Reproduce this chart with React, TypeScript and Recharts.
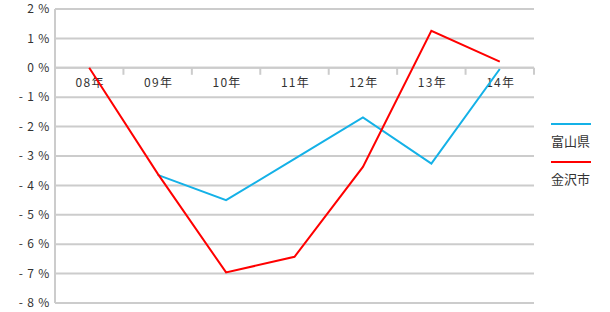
import React from 'react';
import { LineChart, Line, XAxis, YAxis, CartesianGrid, ReferenceLine, Legend } from 'recharts';

// 年次の前年比（%）
const years = ['08年', '09年', '10年', '11年', '12年', '13年', '14年'];
const toyama = [null, -3.64, -4.5, -3.1, -1.69, -3.26, -0.04];
const kanazawa = [0, -3.6, -6.96, -6.43, -3.37, 1.26, 0.21];
const yTicks = [-8, -7, -6, -5, -4, -3, -2, -1, 0, 1, 2];

const data = years.map((year, i) => ({
  year,
  toyama: toyama[i],
  kanazawa: kanazawa[i],
}));

const FONT = "'Noto Sans CJK JP', 'Noto Sans', sans-serif";
const GRID = '#cccccc';
const TEXT = '#333333';

const formatPct = (v: number) => (v < 0 ? `- ${Math.abs(v)} %` : `${v} %`);

// category labels and separator ticks hanging off the 0% line
const YearAxis = (props: any) => {
  const vb = props.viewBox || {};
  const band = vb.width / years.length;
  return (
    <g>
      {years.map((label, i) => (
        <g key={label}>
          <line
            x1={vb.x + band * (i + 1)}
            x2={vb.x + band * (i + 1)}
            y1={vb.y}
            y2={vb.y + 7}
            stroke={GRID}
            strokeWidth={2}
          />
          <text
            x={vb.x + band * (i + 0.5) + 1}
            y={vb.y + 19}
            textAnchor="middle"
            fontSize={12}
            letterSpacing={1.3}
            fontFamily={FONT}
            fill={TEXT}
          >
            {label}
          </text>
        </g>
      ))}
    </g>
  );
};

// legend floats at the right edge; wrapper keeps zero size so the plot isn't shrunk
const SideLegend = (props: any) => {
  const items = props.payload || [];
  return (
    <div style={{ position: 'absolute', left: 0, top: 0, width: 55, fontFamily: FONT, fontSize: 13, color: TEXT }}>
      {items.map((item: any) => (
        <div key={item.value} style={{ marginBottom: 12 }}>
          <div style={{ width: 40, height: 2, background: item.color, marginBottom: 7 }} />
          <div style={{ lineHeight: '17px' }}>{item.value}</div>
        </div>
      ))}
    </div>
  );
};

export default function App() {
  return (
    <div style={{ position: 'absolute', left: 0, top: 0, width: 610, height: 312, background: '#fff' }}>
      <LineChart width={610} height={312} data={data} margin={{ top: 9, right: 76, bottom: 9, left: 0 }}>
        <CartesianGrid vertical={false} stroke={GRID} strokeWidth={2} />
        <XAxis dataKey="year" scale="band" hide />
        <YAxis
          domain={[-8, 2]}
          ticks={yTicks}
          width={55}
          interval={0}
          tickFormatter={formatPct}
          axisLine={{ stroke: GRID, strokeWidth: 2 }}
          tickLine={false}
          tickSize={0}
          tickMargin={5}
          tick={{ fontSize: 12, fontFamily: FONT, fill: TEXT, letterSpacing: 0.8 }}
        />
        <ReferenceLine y={0} stroke={GRID} strokeWidth={2} label={<YearAxis />} />
        <Line
          dataKey="toyama"
          name="富山県"
          stroke="#14b1e7"
          strokeWidth={2}
          dot={false}
          activeDot={false}
          isAnimationActive={false}
        />
        <Line
          dataKey="kanazawa"
          name="金沢市"
          stroke="#ff0000"
          strokeWidth={2}
          dot={false}
          activeDot={false}
          isAnimationActive={false}
        />
        <Legend
          content={<SideLegend />}
          wrapperStyle={{ position: 'absolute', left: 551, top: 123, width: 0, height: 0, bottom: 'auto' }}
        />
      </LineChart>
    </div>
  );
}
